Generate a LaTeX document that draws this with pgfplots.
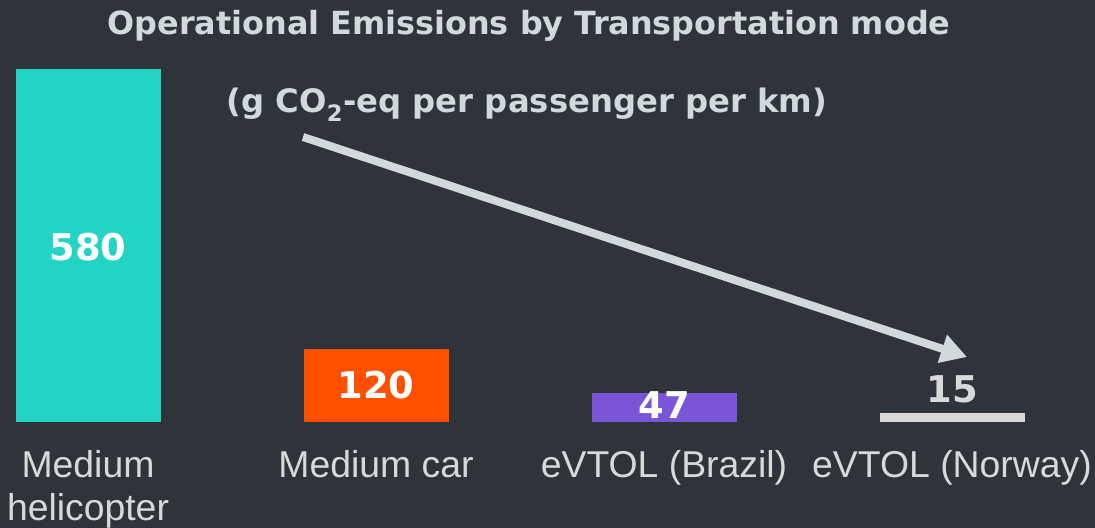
\documentclass[border=0pt]{standalone}
\usepackage{pgfplots}
\pgfplotsset{compat=1.18}
\usepackage{fontspec}
\setmainfont{Liberation Sans}
\newfontfamily\vfont{DejaVu Sans}
\usetikzlibrary{arrows.meta}
\definecolor{bg}{HTML}{2E3439}
\definecolor{ttl}{HTML}{D2D9DC}
\definecolor{lbl}{HTML}{D9D9D9}
\definecolor{teal}{HTML}{23D4C6}
\definecolor{orng}{HTML}{FF5000}
\definecolor{purp}{HTML}{7B55D8}
\definecolor{grybar}{HTML}{D9D9D9}
\begin{document}
\begin{tikzpicture}[x=1bp,y=1bp]
\fill[bg] (0,0) rectangle (1095,528);
\useasboundingbox (0,0) rectangle (1095,528);
% titles
\node[anchor=base, text=ttl, font=\vfont\bfseries\fontsize{32}{36}\selectfont]
  at (529,493) {Operational Emissions by Transportation mode};
\node[anchor=base, text=ttl, font=\vfont\bfseries\fontsize{32.4}{36}\selectfont]
  at (527,415) {(g CO\textsubscript{2}-eq per passenger per km)};
% arrow
\draw[ttl, line width=8bp, -{Triangle[length=26bp,width=28bp]}] (303,391) -- (967,171);
\begin{axis}[
    at={(1.6bp,106bp)}, anchor=south west,
    scale only axis,
    x=288bp, y=0.609bp,
    xmin=-0.3, xmax=3.3, ymin=0, ymax=600,
    axis line style={draw=none},
    tick style={draw=none},
    ytick=\empty,
    xtick={0,1,2,3},
    xticklabels={Medium\\helicopter, Medium car, eVTOL (Brazil), eVTOL (Norway)},
    x tick label style={font=\fontsize{37.5}{43}\selectfont, text=lbl, align=center, anchor=north, yshift=-25bp},
    clip=false,
]
\addplot[ybar, bar width=145bp, fill=teal, draw=none] coordinates {(0,580)};
\addplot[ybar, bar width=145bp, fill=orng, draw=none] coordinates {(1,120)};
\addplot[ybar, bar width=145bp, fill=purp, draw=none] coordinates {(2,47)};
\addplot[ybar, bar width=145bp, fill=grybar, draw=none] coordinates {(3,15)};
% value labels
\addplot[draw=none, mark=none, nodes near coords, point meta=explicit symbolic,
  every node near coord/.append style={anchor=center, text=white, font=\vfont\bfseries\fontsize{37}{40}\selectfont}]
  coordinates {(0,287) [580] (1,61) [120] (2,28) [47]};
\addplot[draw=none, mark=none, nodes near coords, point meta=explicit symbolic,
  every node near coord/.append style={anchor=center, text=lbl, font=\vfont\bfseries\fontsize{37}{40}\selectfont}]
  coordinates {(3,54) [15]};
\end{axis}
\end{tikzpicture}
\end{document}
